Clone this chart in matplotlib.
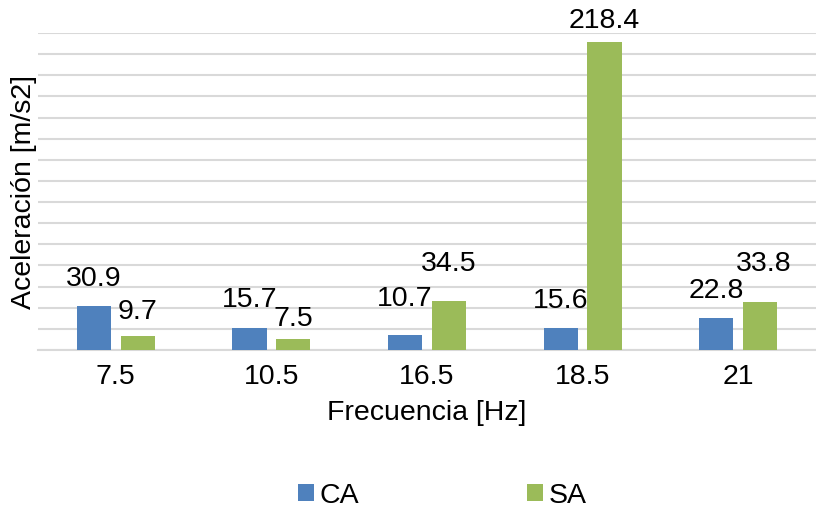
import matplotlib.pyplot as plt
import numpy as np

plt.rcParams['font.family'] = ['Liberation Sans', 'DejaVu Sans']

# data
frecuencias = ["7.5", "10.5", "16.5", "18.5", "21"]
ca = [30.9, 15.7, 10.7, 15.6, 22.8]
sa = [9.7, 7.5, 34.5, 218.4, 33.8]

# label nudges in pixels (dx, dy above bar top)
ca_off = [(0, 27), (0, 28), (0, 36), (0, 27), (0, 27)]
sa_off = [(0, 24), (0, 20), (0, 37), (0, 21), (4, 38)]

c_ca = '#4f81bd'
c_sa = '#9bbb59'
fs = 20.5

fig = plt.figure(figsize=(8.16, 5.11), dpi=100)
ax = fig.add_axes([38/816, 1-350/511, 1-38/816, 317/511])

x = np.arange(len(frecuencias))
w = 0.22
d = 0.141
b1 = ax.bar(x - d, ca, w, color=c_ca, label='CA', zorder=3)
b2 = ax.bar(x + d, sa, w, color=c_sa, label='SA', zorder=3)

for bars, vals, offs in [(b1, ca, ca_off), (b2, sa, sa_off)]:
    for r, v, (dx, dy) in zip(bars, vals, offs):
        ax.annotate(f"{v:.1f}", (r.get_x() + r.get_width()/2, v),
                    xytext=(dx, dy), textcoords='offset pixels',
                    ha='center', va='center', fontsize=fs)

ax.set_xlim(-0.5, len(frecuencias) - 0.5)
ax.set_ylim(0, 225)
ax.set_yticks(np.arange(0, 226, 15))
ax.yaxis.grid(True, color='#d9d9d9', linewidth=1.5, zorder=0)
ax.tick_params(axis='y', left=False, labelleft=False)
ax.set_xticks(x)
ax.set_xticklabels(frecuencias, fontsize=fs)
ax.tick_params(axis='x', length=0, pad=10)
for s in ['top', 'right', 'left']:
    ax.spines[s].set_visible(False)
ax.spines['bottom'].set_color('#d9d9d9')
ax.spines['bottom'].set_linewidth(1.5)

ax.set_xlabel('Frecuencia [Hz]', fontsize=fs, labelpad=7)
ax.set_ylabel('Aceleración [m/s2]', fontsize=fs, labelpad=1)

fig.legend(handles=[b1, b2], loc='center', bbox_to_anchor=(0.542, 0.03),
           ncol=2, frameon=False, fontsize=fs, handlelength=0.55,
           handleheight=0.55, handletextpad=0.2, columnspacing=5.9)

fig.savefig('out.png', dpi=100)
